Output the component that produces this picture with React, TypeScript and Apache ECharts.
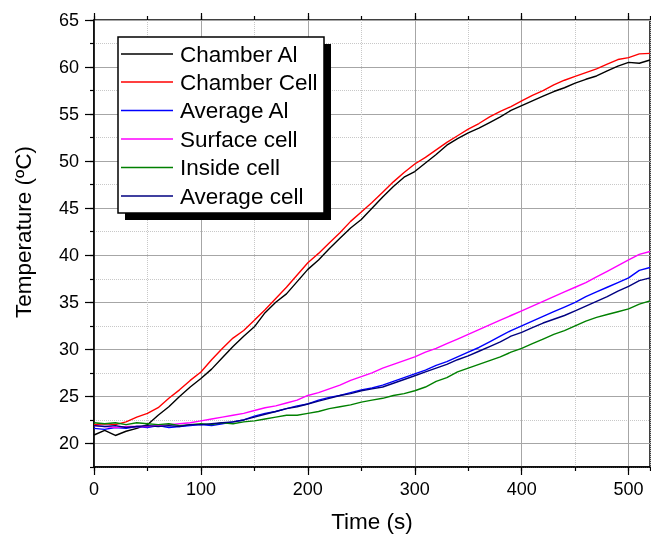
import React, { useEffect, useRef } from "react";
import * as echarts from "echarts";

const TIME = [0, 10, 20, 30, 40, 50, 60, 70, 80, 90, 100, 110, 120, 130, 140, 150, 160, 170, 180, 190, 200, 210, 220, 230, 240, 250, 260, 270, 280, 290, 300, 310, 320, 330, 340, 350, 360, 370, 380, 390, 400, 410, 420, 430, 440, 450, 460, 470, 480, 490, 500, 510, 520];

const CHAMBER_AL = [20.9, 21.4, 20.85, 21.3, 21.6, 22.0, 23.0, 23.9, 25.0, 26.0, 26.9, 27.9, 29.1, 30.3, 31.4, 32.4, 33.9, 35.0, 35.9, 37.2, 38.5, 39.5, 40.7, 41.8, 42.9, 43.8, 45.0, 46.2, 47.3, 48.3, 48.9, 49.8, 50.7, 51.7, 52.4, 53.0, 53.5, 54.1, 54.7, 55.4, 55.9, 56.4, 56.9, 57.4, 57.8, 58.3, 58.7, 59.05, 59.6, 60.1, 60.5, 60.4, 60.75];
const CHAMBER_CELL = [22.0, 22.1, 22.0, 22.3, 22.8, 23.2, 23.8, 24.8, 25.7, 26.7, 27.6, 28.9, 30.1, 31.2, 32.0, 33.1, 34.2, 35.4, 36.6, 37.9, 39.2, 40.2, 41.3, 42.4, 43.6, 44.6, 45.6, 46.7, 47.8, 48.8, 49.7, 50.4, 51.2, 52.0, 52.7, 53.4, 54.0, 54.7, 55.3, 55.8, 56.4, 57.0, 57.5, 58.1, 58.6, 59.0, 59.4, 59.8, 60.3, 60.8, 61.0, 61.4, 61.45];
const AVERAGE_AL = [21.6, 21.5, 21.7, 21.6, 21.8, 21.7, 21.9, 21.7, 21.8, 21.9, 22.0, 21.9, 22.1, 22.3, 22.5, 22.9, 23.2, 23.4, 23.7, 24.0, 24.2, 24.6, 24.9, 25.1, 25.4, 25.7, 25.9, 26.2, 26.6, 27.0, 27.4, 27.8, 28.3, 28.7, 29.2, 29.7, 30.2, 30.8, 31.4, 32.0, 32.5, 33.0, 33.5, 34.0, 34.5, 35.0, 35.6, 36.1, 36.6, 37.1, 37.6, 38.4, 38.7];
const SURFACE_CELL = [21.9, 21.8, 21.7, 21.8, 21.8, 21.8, 21.9, 22.0, 22.1, 22.2, 22.4, 22.6, 22.8, 23.0, 23.2, 23.5, 23.8, 24.0, 24.3, 24.6, 25.1, 25.4, 25.8, 26.2, 26.7, 27.1, 27.5, 28.0, 28.4, 28.8, 29.2, 29.7, 30.1, 30.6, 31.1, 31.6, 32.1, 32.6, 33.1, 33.6, 34.1, 34.6, 35.1, 35.6, 36.1, 36.6, 37.1, 37.7, 38.3, 38.9, 39.5, 40.1, 40.4];
const INSIDE_CELL = [22.2, 22.1, 22.2, 22.0, 22.2, 22.1, 22.0, 22.1, 21.9, 22.0, 22.1, 22.0, 22.2, 22.1, 22.3, 22.4, 22.6, 22.8, 23.0, 23.0, 23.2, 23.4, 23.7, 23.9, 24.1, 24.4, 24.6, 24.8, 25.1, 25.3, 25.6, 26.0, 26.6, 27.0, 27.6, 28.0, 28.4, 28.8, 29.2, 29.7, 30.1, 30.6, 31.1, 31.6, 32.0, 32.5, 33.0, 33.4, 33.7, 34.0, 34.3, 34.8, 35.15];
const AVERAGE_CELL = [21.9, 21.8, 21.9, 21.7, 21.8, 21.9, 21.8, 21.9, 21.8, 22.0, 22.0, 22.1, 22.2, 22.3, 22.5, 22.8, 23.1, 23.4, 23.7, 23.9, 24.2, 24.5, 24.8, 25.1, 25.3, 25.6, 25.8, 26.0, 26.4, 26.8, 27.2, 27.6, 28.0, 28.4, 28.9, 29.3, 29.8, 30.3, 30.8, 31.4, 31.8, 32.3, 32.8, 33.2, 33.6, 34.1, 34.6, 35.1, 35.6, 36.2, 36.7, 37.3, 37.6];

const SERIES_NAMES = ["Chamber Al", "Chamber Cell", "Average Al", "Surface cell", "Inside cell", "Average cell"];
const SERIES_COLORS = ["#000000", "#ff0000", "#0000ff", "#ff00ff", "#008000", "#000080"];
const SERIES_VALUES = [CHAMBER_AL, CHAMBER_CELL, AVERAGE_AL, SURFACE_CELL, INSIDE_CELL, AVERAGE_CELL];

const X_MAJOR = [0, 100, 200, 300, 400, 500];
const Y_MAJOR = [20, 25, 30, 35, 40, 45, 50, 55, 60, 65];

const FONT = "Arial, 'Liberation Sans', sans-serif";

export default function App() {
  const ref = useRef<HTMLDivElement>(null);
  useEffect(() => {
    if (!ref.current) return;
    const chart = echarts.init(ref.current, undefined, { renderer: "svg" });

    const legendRows = [54, 82, 110.5, 139, 167.5, 196];
    const legendEls: any[] = [
      { type: "rect", z: 100, shape: { x: 125, y: 44, width: 206, height: 176 }, style: { fill: "#000" } },
      { type: "rect", z: 101, shape: { x: 118, y: 37, width: 206, height: 176 }, style: { fill: "#fff", stroke: "#000", lineWidth: 1.5 } },
    ];
    SERIES_NAMES.forEach((n, i) => {
      legendEls.push({ type: "line", z: 102, shape: { x1: 121, y1: legendRows[i], x2: 173, y2: legendRows[i] }, style: { stroke: SERIES_COLORS[i], lineWidth: 1.5 } });
      legendEls.push({ type: "text", z: 102, x: 180, y: legendRows[i], style: { text: n, font: `22.5px ${FONT}`, fill: "#000", textVerticalAlign: "middle" } });
    });
    legendEls.push({
      type: "text", z: 102, x: 23, y: 232, rotation: Math.PI / 2,
      style: { text: "Temperature (ºC)", font: `22.5px ${FONT}`, fill: "#000", textAlign: "center", textVerticalAlign: "middle" },
    });

    const blackLine = { color: "#000", width: 1.2 };
    const option: any = {
      animation: false,
      grid: { left: 94, right: 1, top: 20, bottom: 69, show: true, borderColor: "#000", borderWidth: 1.5, backgroundColor: "transparent" },
      xAxis: [
        {
          type: "value", min: 0, max: 520, interval: 50, position: "bottom",
          axisLine: { show: true, onZero: false, lineStyle: { color: "#000", width: 1.5 } },
          axisTick: { show: true, length: 4, lineStyle: blackLine },
          axisLabel: { show: false },
          splitLine: { show: true, lineStyle: { color: "#c8c8c8", width: 1, type: "dotted" } },
        },
        {
          type: "value", min: 0, max: 520, position: "bottom",
          axisLine: { show: false, onZero: false },
          axisTick: { show: true, length: 8, customValues: X_MAJOR, lineStyle: blackLine },
          axisLabel: { show: true, customValues: X_MAJOR, color: "#000", fontSize: 18, fontFamily: FONT, margin: 13 },
          splitLine: { show: true, lineStyle: { color: "#a6a6a6", width: 1 } },
          name: "Time (s)", nameLocation: "middle", nameGap: 43,
          nameTextStyle: { color: "#000", fontSize: 22.5, fontFamily: FONT },
        },
        {
          type: "value", min: 0, max: 520, interval: 50, position: "top",
          axisLine: { show: false, onZero: false },
          axisTick: { show: true, length: 4, lineStyle: blackLine },
          axisLabel: { show: false },
          splitLine: { show: false },
        },
        {
          type: "value", min: 0, max: 520, position: "top",
          axisLine: { show: false, onZero: false },
          axisTick: { show: true, length: 7, customValues: X_MAJOR, lineStyle: blackLine },
          axisLabel: { show: false },
          splitLine: { show: false },
        },
      ],
      yAxis: [
        {
          type: "value", min: 17.5, max: 65, interval: 2.5, position: "left",
          axisLine: { show: true, onZero: false, lineStyle: { color: "#000", width: 1.5 } },
          axisTick: { show: true, length: 4, lineStyle: blackLine },
          axisLabel: { show: false },
          splitLine: { show: true, lineStyle: { color: "#c8c8c8", width: 1, type: "dotted" } },
        },
        {
          type: "value", min: 17.5, max: 65, position: "left",
          axisLine: { show: false, onZero: false },
          axisTick: { show: true, length: 9, customValues: Y_MAJOR, lineStyle: blackLine },
          axisLabel: { show: true, customValues: Y_MAJOR, color: "#000", fontSize: 18, fontFamily: FONT, margin: 15 },
          splitLine: { show: true, lineStyle: { color: "#a6a6a6", width: 1 } },
        },
      ],
      graphic: { elements: legendEls },
      series: SERIES_NAMES.map((n, i) => ({
        name: n,
        type: "line",
        xAxisIndex: 0,
        yAxisIndex: 0,
        showSymbol: false,
        symbol: "none",
        lineStyle: { color: SERIES_COLORS[i], width: 1.4 },
        itemStyle: { color: SERIES_COLORS[i] },
        data: TIME.map((t, k) => [t, SERIES_VALUES[i][k]]),
        z: 3 + i,
      })),
    };
    chart.setOption(option);
    return () => chart.dispose();
  }, []);
  return <div ref={ref} style={{ position: "fixed", left: 0, top: 0, width: 651, height: 538 }} />;
}
